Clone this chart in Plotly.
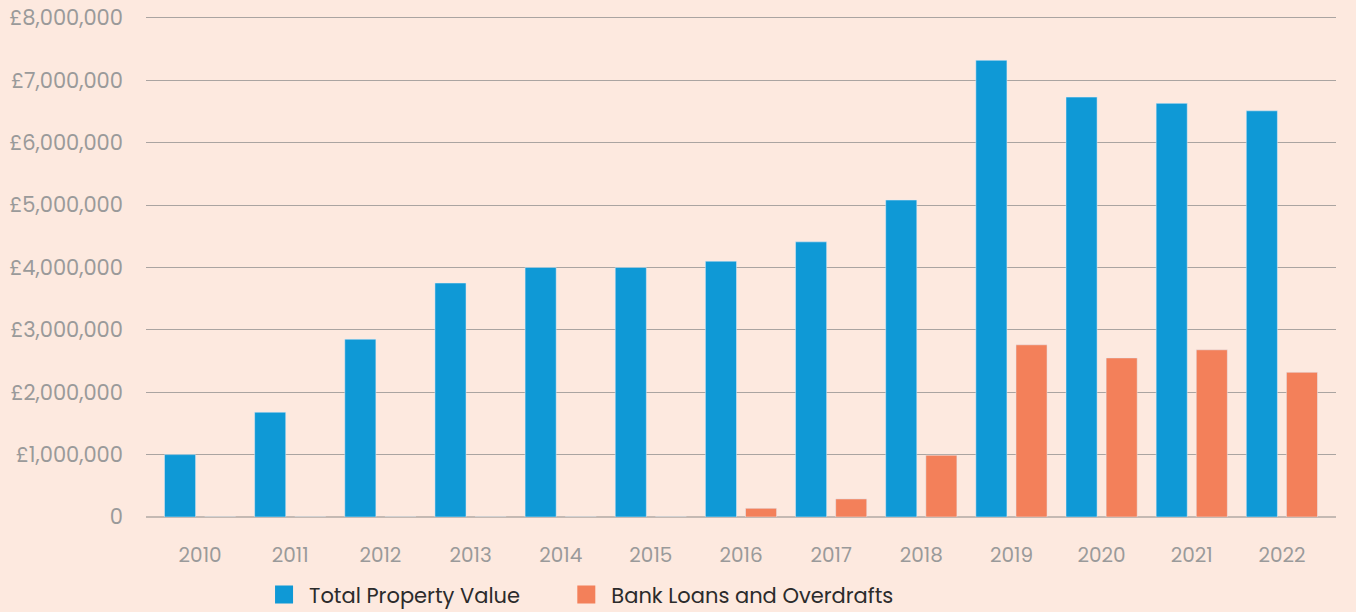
import plotly.graph_objects as go

years = ["2010", "2011", "2012", "2013", "2014", "2015", "2016",
         "2017", "2018", "2019", "2020", "2021", "2022"]
total_property_value = [1000000, 1680000, 2850000, 3750000, 4000000, 4000000, 4100000,
                        4410000, 5080000, 7320000, 6730000, 6630000, 6510000]
bank_loans = [0, 0, 0, 0, 0, 0, 140000,
              290000, 990000, 2760000, 2550000, 2680000, 2320000]

y_ticks = [0, 1000000, 2000000, 3000000, 4000000, 5000000, 6000000, 7000000, 8000000]
y_tick_labels = ["0", "£1,000,000", "£2,000,000", "£3,000,000", "£4,000,000",
                 "£5,000,000", "£6,000,000", "£7,000,000", "£8,000,000"]

BLUE = "#0F99D6"
ORANGE = "#F3805A"
BG = "#FDE9DF"
FONT = "Poppins, Open Sans, sans-serif"

fig = go.Figure()
fig.add_bar(x=years, y=total_property_value, name="Total Property Value",
            marker_color=BLUE, showlegend=False)
fig.add_bar(x=years, y=bank_loans, name="Bank Loans and Overdrafts",
            marker_color=ORANGE, showlegend=False)

# legend entries with larger square swatches, one legend each so spacing can be set
for name, colour, leg in [("Total Property Value", BLUE, "legend"),
                          ("Bank Loans and Overdrafts", ORANGE, "legend2")]:
    fig.add_trace(go.Scatter(x=[None], y=[None], mode="markers", name=name, legend=leg,
                             marker=dict(symbol="square", size=20, color=colour,
                                         line=dict(color=colour, width=2))))

legend_style = dict(
    orientation="h",
    xref="paper",
    xanchor="left",
    yref="container",
    y=0.028,
    yanchor="middle",
    font=dict(size=21, color="#2b2b2b"),
    bgcolor="rgba(0,0,0,0)",
    itemwidth=40,
)

fig.update_layout(
    width=1356,
    height=612,
    paper_bgcolor=BG,
    plot_bgcolor=BG,
    barmode="group",
    bargap=0.11,
    bargroupgap=0.225,
    margin=dict(l=146, r=20, t=16, b=95, autoexpand=False),
    font=dict(family=FONT, size=21, color="#9a9a9a"),
    legend=dict(legend_style, x=0.095),
    legend2=dict(legend_style, x=0.349),
)
fig.update_xaxes(
    range=[-0.6, 12.6],
    showgrid=False,
    showline=False,
    ticks="",
    ticklabelstandoff=24,
    tickfont=dict(size=20),
)
fig.update_yaxes(
    range=[0, 8030000],
    tickvals=y_ticks,
    ticktext=y_tick_labels,
    gridcolor="#aaa4a1",
    gridwidth=1,
    zeroline=True,
    zerolinecolor="#c4b9b3",
    zerolinewidth=2,
    ticks="",
    ticklabelstandoff=22,
)

fig.write_html("out.html", config={"displayModeBar": False},
               post_script="document.body.style.margin='0';")
